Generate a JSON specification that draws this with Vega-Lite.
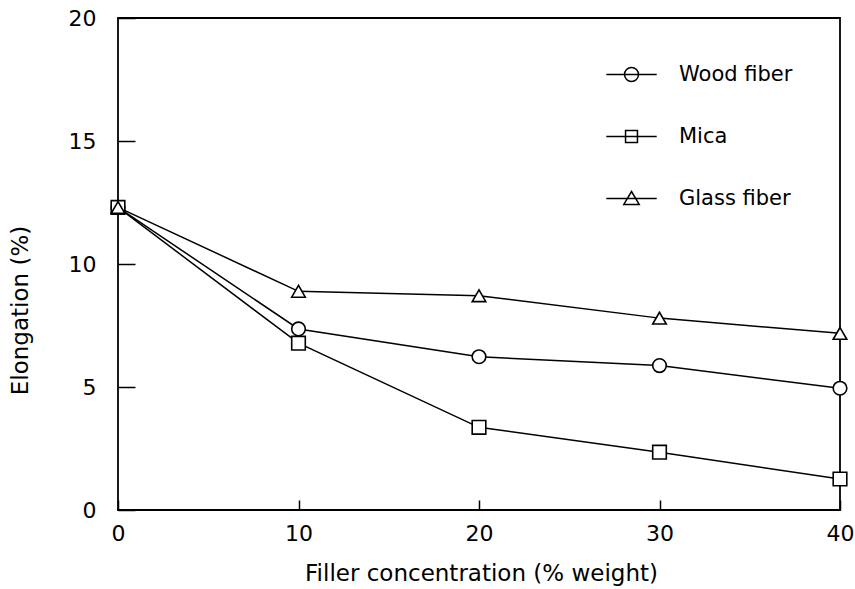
{
  "$schema": "https://vega.github.io/schema/vega-lite/v6.json",
  "width": 722,
  "height": 492,
  "autosize": {"type": "none"},
  "padding": {"left": 118, "top": 18, "right": 15, "bottom": 79},
  "background": "white",
  "config": {
    "view": {"stroke": "black", "strokeWidth": 1.8},
    "font": "DejaVu Sans"
  },
  "data": {
    "values": [
      {"filler": 0, "elongation": 12.3, "series": "Wood fiber"},
      {"filler": 10, "elongation": 7.36, "series": "Wood fiber"},
      {"filler": 20, "elongation": 6.23, "series": "Wood fiber"},
      {"filler": 30, "elongation": 5.87, "series": "Wood fiber"},
      {"filler": 40, "elongation": 4.95, "series": "Wood fiber"},
      {"filler": 0, "elongation": 12.3, "series": "Mica"},
      {"filler": 10, "elongation": 6.78, "series": "Mica"},
      {"filler": 20, "elongation": 3.36, "series": "Mica"},
      {"filler": 30, "elongation": 2.35, "series": "Mica"},
      {"filler": 40, "elongation": 1.26, "series": "Mica"},
      {"filler": 0, "elongation": 12.3, "series": "Glass fiber"},
      {"filler": 10, "elongation": 8.89, "series": "Glass fiber"},
      {"filler": 20, "elongation": 8.71, "series": "Glass fiber"},
      {"filler": 30, "elongation": 7.8, "series": "Glass fiber"},
      {"filler": 40, "elongation": 7.18, "series": "Glass fiber"}
    ]
  },
  "encoding": {
    "x": {
      "field": "filler", "type": "quantitative",
      "scale": {"domain": [0, 40], "nice": false, "zero": false},
      "axis": {
        "values": [0, 10, 20, 30, 40],
        "title": "Filler concentration (% weight)",
        "titleFont": "DejaVu Sans", "titleFontSize": 23, "titleFontWeight": "normal",
        "titleColor": "black",
        "titleBaseline": "alphabetic", "titleY": 70, "titleX": 363, "titleAlign": "center",
        "labelFont": "DejaVu Sans", "labelFontSize": 22, "labelColor": "black",
        "labelPadding": 23, "labelFlush": false, "labelOverlap": false,
        "grid": false, "domain": false,
        "tickSize": -10, "tickColor": "black", "tickWidth": 1.5
      }
    },
    "y": {
      "field": "elongation", "type": "quantitative",
      "scale": {"domain": [0, 20], "nice": false},
      "axis": {
        "values": [0, 5, 10, 15, 20],
        "title": "Elongation (%)",
        "titleFont": "DejaVu Sans", "titleFontSize": 23, "titleFontWeight": "normal",
        "titleColor": "black",
        "titleAngle": 270, "titleBaseline": "middle", "titleAlign": "center",
        "titleX": -98, "titleY": 292,
        "labelFont": "DejaVu Sans", "labelFontSize": 22, "labelColor": "black",
        "labelPadding": 39, "labelFlush": false, "labelOverlap": false,
        "grid": false, "domain": false,
        "tickSize": -17, "tickColor": "black", "tickWidth": 1.5
      }
    }
  },
  "layer": [
    {
      "mark": {"type": "line", "color": "black", "strokeWidth": 1.5},
      "encoding": {"detail": {"field": "series"}}
    },
    {
      "mark": {"type": "point", "filled": true, "fill": "white", "stroke": "black", "strokeWidth": 1.6, "size": 185, "opacity": 1},
      "encoding": {
        "shape": {
          "field": "series", "type": "nominal",
          "scale": {"domain": ["Wood fiber", "Mica", "Glass fiber"], "range": ["circle", "square", "triangle-up"]},
          "legend": null
        }
      }
    },
    {
      "mark": {"type": "point", "filled": false, "stroke": "black", "strokeWidth": 1.5, "size": 196, "opacity": 0},
      "encoding": {
        "shape": {
          "field": "series", "type": "nominal",
          "scale": {
            "domain": ["Wood fiber", "Mica", "Glass fiber"],
            "range": [
              "M -3.6 0 L 3.6 0 M 1 0 A 1 1 0 1 1 -1 0 A 1 1 0 1 1 1 0",
              "M -3.6 0 L 3.6 0 M -0.85 -0.85 L 0.85 -0.85 L 0.85 0.85 L -0.85 0.85 Z",
              "M -3.6 0 L 3.6 0 M 0 -1 L 1.1 0.85 L -1.1 0.85 Z"
            ]
          },
          "legend": {
            "title": null,
            "orient": "none",
            "legendX": 503,
            "legendY": 46,
            "padding": 0,
            "symbolSize": 196,
            "symbolOpacity": 1,
            "symbolStrokeColor": "black",
            "symbolFillColor": "transparent",
            "symbolStrokeWidth": 1.5,
            "labelOffset": 37,
            "labelFont": "DejaVu Sans",
            "labelFontSize": 21,
            "labelColor": "black",
            "rowPadding": 40,
            "labelLimit": 300
          }
        }
      }
    }
  ],
  "resolve": {"scale": {"shape": "independent"}, "legend": {"shape": "independent"}}
}
